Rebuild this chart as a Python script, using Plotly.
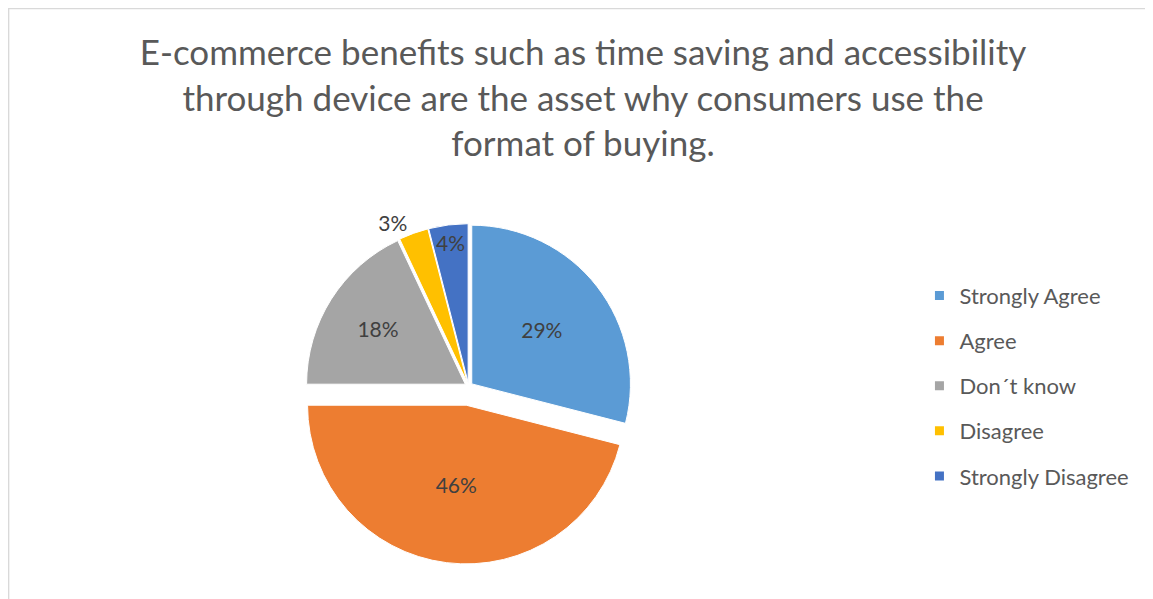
import plotly.graph_objects as go

labels = ["Strongly Agree", "Agree", "Don\u00b4t know", "Disagree", "Strongly Disagree"]
values = [29, 46, 18, 3, 4]
colors = ["#5B9BD5", "#ED7D31", "#A5A5A5", "#FFC000", "#4472C4"]
pulls = [0.025, 0.12, 0.025, 0.025, 0.025]
text_positions = ["inside", "inside", "inside", "outside", "inside"]
title_text = ("E-commerce benefits such as time saving and accessibility<br>"
              "through device are the asset why consumers use the<br>"
              "format of buying.")

W, H = 1153, 599
FONT = "Lato"

fig = go.Figure()

fig.add_trace(go.Pie(
    labels=labels,
    values=values,
    sort=False,
    direction="clockwise",
    rotation=0,
    pull=pulls,
    marker=dict(colors=colors, line=dict(color="white", width=1)),
    texttemplate="%{percent:.0%}",
    textposition=text_positions,
    insidetextorientation="horizontal",
    textfont=dict(family=FONT, size=21, color="#404040"),
    showlegend=False,
    domain=dict(x=[0.2441, 0.5549], y=[0.0639, 0.6623]),
    hoverinfo="label+percent",
))

# legend entries (square markers, spaced like the reference)
for lab, col in zip(labels, colors):
    fig.add_trace(go.Scatter(
        x=[None], y=[None], mode="markers", name=lab, legendgroup=lab,
        marker=dict(symbol="square", size=9, color=col),
        showlegend=True,
    ))

fig.update_layout(
    width=W, height=H,
    margin=dict(l=0, r=0, t=0, b=0),
    paper_bgcolor="white", plot_bgcolor="white",
    font=dict(family=FONT, color="#595959"),
    title=dict(text=title_text, x=575 / W, xanchor="center",
               yref="container", y=1 - 57 / H, yanchor="top",
               font=dict(family=FONT, size=35, color="#595959")),
    xaxis=dict(visible=False), yaxis=dict(visible=False),
    legend=dict(x=0.7905, xanchor="left", y=1 - 269 / H, yanchor="top",
                font=dict(family=FONT, size=22, color="#595959"),
                tracegroupgap=13.5, traceorder="grouped",
                bgcolor="rgba(0,0,0,0)"),
    uniformtext=dict(minsize=21, mode="show"),
    shapes=[dict(type="rect", xref="paper", yref="paper",
                 x0=0.6 / W, x1=1.02, y0=-0.02, y1=1 - 0.6 / H,
                 line=dict(color="#D9D9D9", width=1.5), layer="below")],
)

fig.write_html("out.html")
